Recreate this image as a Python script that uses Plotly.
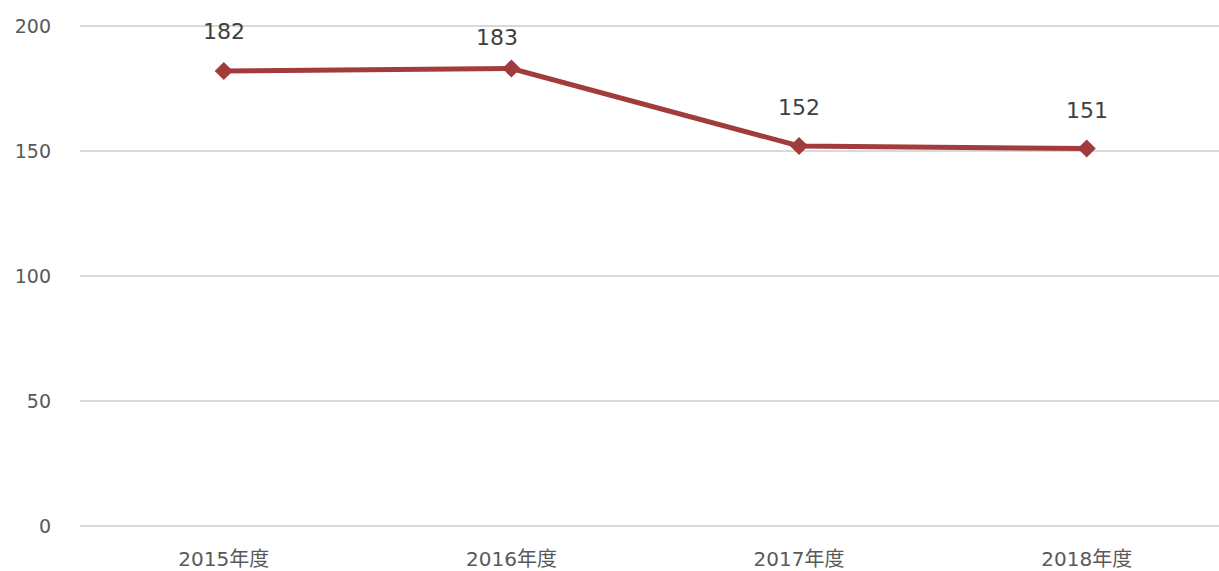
import plotly.graph_objects as go

categories = ["2015年度", "2016年度", "2017年度", "2018年度"]
values = [182, 183, 152, 151]
y_ticks = [0, 50, 100, 150, 200]

# label placement offsets (pixels), matching the reference's label layout
label_yshift = [40, 31, 39, 38]
label_xshift = [0, -14, 0, 0]

line_color = "#A23B3B"
font_family = "DejaVu Sans, Noto Sans CJK JP, sans-serif"

fig = go.Figure()
fig.add_trace(go.Scatter(
    x=categories, y=values, mode="lines+markers",
    line=dict(color=line_color, width=5),
    marker=dict(symbol="diamond", size=14, color=line_color),
    hoverinfo="skip",
))

for c, v, ys, xs in zip(categories, values, label_yshift, label_xshift):
    fig.add_annotation(x=c, y=v, text=str(v), showarrow=False, yshift=ys, xshift=xs,
                       font=dict(size=22, color="#404040", family=font_family))

fig.update_layout(
    width=1219, height=571,
    margin=dict(l=80, r=0, t=21, b=45, autoexpand=False),
    plot_bgcolor="white", paper_bgcolor="white",
    showlegend=False,
    font=dict(family=font_family, color="#595959", size=19),
)
fig.update_xaxes(range=[-0.5, 3.46], showgrid=False, zeroline=False,
                 showline=False, ticks="", ticklabelstandoff=19,
                 tickfont=dict(size=20, color="#595959"))
fig.update_yaxes(range=[0, 202], tickvals=y_ticks, showgrid=True,
                 gridcolor="#D9D9D9", gridwidth=1.5, zeroline=True,
                 zerolinecolor="#D9D9D9", zerolinewidth=1.5, showline=False,
                 ticks="", ticklabelstandoff=28,
                 tickfont=dict(size=19, color="#595959"))

fig.write_html("out.html", config={"displayModeBar": False},
               post_script="document.body.style.margin='0';document.body.style.overflow='hidden';")
